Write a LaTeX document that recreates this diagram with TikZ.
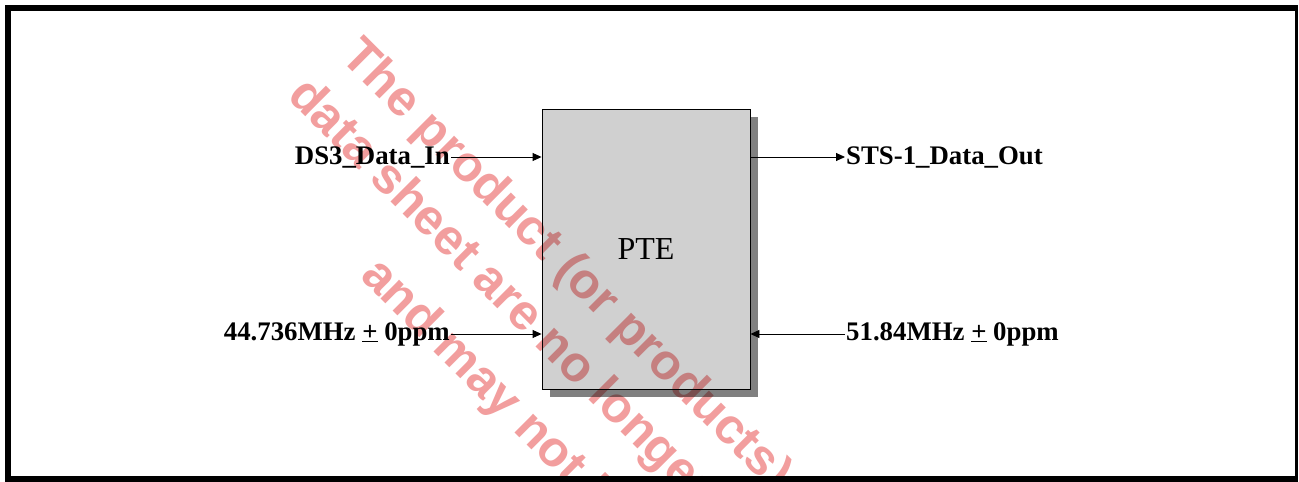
\documentclass[tikz,border=0pt]{standalone}
\usepackage{fontspec}
\setmainfont{Liberation Serif}
\newfontfamily\wmfont{Liberation Sans}
\usetikzlibrary{arrows.meta}
\definecolor{boxgray}{RGB}{208,208,208}
\definecolor{shadowgray}{RGB}{128,128,128}
\definecolor{wmpink}{RGB}{242,158,158}
\tikzset{
  lbl/.style={font=\fontsize{26.8}{30}\selectfont\bfseries, inner sep=1pt},
  conn/.style={line width=0.9pt, -{Triangle[length=9pt,width=8pt]}},
  wm/.style={font=\wmfont\bfseries\fontsize{50}{60}\selectfont, text=wmpink, rotate=-45, anchor=base west, inner sep=0pt},
  frame/.style={fill=black, draw=none}
}
\begin{document}
\begin{tikzpicture}[x=1pt,y=-1pt]
\useasboundingbox (0,0) rectangle (1299,482);
\fill[white] (0,0) rectangle (1299,482);
% shadow and box
\fill[shadowgray] (550,117) rectangle (758,397);
\node[draw=black, line width=0.9pt, fill=boxgray, minimum width=208pt, minimum height=280pt, inner sep=0pt,
      font=\fontsize{32}{36}\selectfont] (pte) at (646,249) {PTE};
% labels
\node[lbl, anchor=east] (ds3) at (451,157) {DS3\_Data\_In};
\node[lbl, anchor=east] (clk1) at (451,334) {44.736MHz \underline{+} 0ppm};
\node[lbl, anchor=west] (sts) at (845,157) {STS-1\_Data\_Out};
\node[lbl, anchor=west] (clk2) at (845,334) {51.84MHz \underline{+} 0ppm};
% connectors
\draw[conn] (ds3.east) -- (ds3.east -| pte.west);
\draw[conn] (clk1.east) -- (clk1.east -| pte.west);
\draw[conn] (sts.west -| pte.east) -- (sts.west);
\draw[conn] (clk2.west) -- (clk2.west -| pte.east);
% watermark
\begin{scope}[blend mode=multiply]
\clip (0,0) rectangle (1299,482);
\node[wm] (wm1) at (339,58) {The product (or products)};
\node[wm] (wm2) at (286,97) {data sheet are no longer};
\node[wm] (wm3) at (359,277) {and may not be};
\end{scope}
% frame
\fill[frame] (5,5) rectangle (1297.5,11);
\fill[frame] (5,5) rectangle (11,482);
\fill[frame] (1294.8,5) rectangle (1297.5,482);
\fill[frame] (5,476) rectangle (1297.5,482);
\end{tikzpicture}
\end{document}
